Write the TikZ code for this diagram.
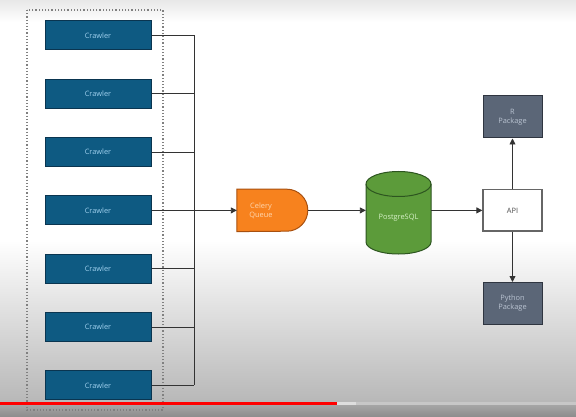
\documentclass[tikz,border=0pt]{standalone}
\usepackage{fontspec}
\setmainfont{Open Sans}
\usetikzlibrary{arrows.meta}
\definecolor{crawfill}{HTML}{0E5A82}
\definecolor{crawdraw}{HTML}{0A3550}
\definecolor{crawtext}{HTML}{9FD0EE}
\definecolor{orfill}{HTML}{F7821E}
\definecolor{ordraw}{HTML}{A8500F}
\definecolor{ortext}{HTML}{FFD6AE}
\definecolor{grfill}{HTML}{5C9B3A}
\definecolor{grdraw}{HTML}{2D5520}
\definecolor{grtext}{HTML}{D6F0C6}
\definecolor{pkfill}{HTML}{5B6677}
\definecolor{pkdraw}{HTML}{2F3540}
\definecolor{pktext}{HTML}{B9C3D1}
\definecolor{linec}{HTML}{333333}
\tikzset{
  lbl/.style={font=\fontsize{7.4}{9}\selectfont, align=center},
  crawler/.style={draw=crawdraw, fill=crawfill, line width=1pt, minimum width=106pt, minimum height=29pt, inner sep=0pt, lbl, text=crawtext},
  pkg/.style={draw=pkdraw, fill=pkfill, line width=1pt, minimum width=59pt, minimum height=42pt, inner sep=0pt, lbl, text=pktext},
  apibox/.style={draw=black!60, fill=white, line width=1.2pt, minimum width=59pt, minimum height=41pt, inner sep=0pt, lbl, text=black!70},
  wire/.style={draw=linec, line width=0.9pt},
  flow/.style={wire, -{Triangle[length=6pt,width=6pt]}},
}
\begin{document}
\begin{tikzpicture}[x=1pt,y=-1pt]
\useasboundingbox (0,0) rectangle (576,417);
% background
\fill[white] (0,0) rectangle (576,417);
\shade[top color=black!9, bottom color=white] (0,0) rectangle (576,22);
\shade[top color=white, bottom color=black!28] (0,240) rectangle (576,402);
\shade[top color=black!33, bottom color=black!45] (0,402) rectangle (576,417);
% dotted container
\draw[black!50, line width=1.2pt, dash pattern=on 1.3pt off 1.9pt] (27,10) rectangle (163,410);
% crawlers
\foreach \i/\y in {1/35.5,2/93.8,3/152.1,4/210.4,5/268.7,6/327,7/385.3}{
  \node[crawler] (c\i) at (98,\y) {Crawler};
}
\coordinate (bus) at (194,0);
\foreach \i in {1,2,3,5,6,7}{
  \draw[wire] (c\i.east) -- (c\i.east -| bus);
}
\draw[wire] (c1.east -| bus) -- (c7.east -| bus);
% celery queue (delay shape)
\node[minimum width=71pt, minimum height=42pt, inner sep=0pt] (celery) at (272.5,210.4) {};
\draw[fill=orfill, draw=ordraw, line width=1pt]
  (celery.north west) -- ++(50,0) arc[start angle=-90, end angle=90, x radius=21, y radius=21] -- (celery.south west) -- cycle;
\node[lbl, text=ortext] (celt) at (261,210.4) {Celery\\Queue};
\draw[flow] (c4.east) -- (celery.west);
% PostgreSQL cylinder
\node[minimum width=65pt, minimum height=82pt, inner sep=0pt] (pg) at (398.5,213) {};
\draw[fill=grfill, draw=grdraw, line width=1pt]
  (366,184) arc[start angle=180, end angle=360, x radius=32.5, y radius=12.5]
  -- (431,242) arc[start angle=0, end angle=180, x radius=32.5, y radius=12] -- cycle;
\draw[draw=grdraw, line width=1pt] (366,184) arc[start angle=180, end angle=0, x radius=32.5, y radius=12.5];
\node[lbl, text=grtext] (pgt) at (398.5,218) {PostgreSQL};
\draw[flow] (celery.east) -- (pg.west |- celery.east);
% API and packages
\node[apibox] (api) at (512.5,210.4) {API};
\node[pkg] (rpk) at (512.5,117) {R\\Package};
\node[pkg] (pypk) at (512.5,303.5) {Python\\Package};
\draw[flow] (pg.east |- api.west) -- (api.west);
\draw[flow] (api.north) -- (rpk.south);
\draw[flow] (api.south) -- (pypk.north);
% progress bar
\fill[red] (0,402) rectangle (337,405);
\fill[black!13] (337,402) rectangle (356,405);
\fill[black!22] (356,402) rectangle (576,405);
\end{tikzpicture}
\end{document}
